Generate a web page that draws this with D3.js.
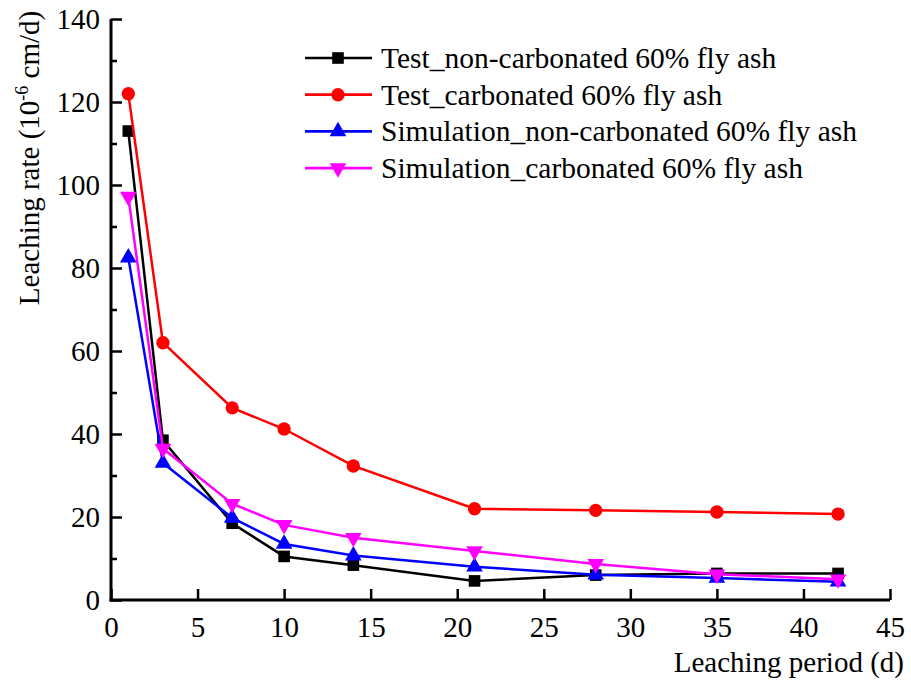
<!DOCTYPE html>
<html>
<head>
<meta charset="utf-8">
<script src="https://cdn.jsdelivr.net/npm/d3@7"></script>
<style>
  body { margin: 0; background: #fff; }
  svg text { font-family: "Liberation Serif", "Times New Roman", serif; fill: #000; }
</style>
</head>
<body>
<div id="chart"></div>
<script>
// leaching period (d)
var days = [1, 3, 7, 10, 14, 21, 28, 35, 42];
// leaching rate (10^-6 cm/d)
var testNonCarb = [113, 38.5, 18.5, 10.5, 8.4, 4.6, 6.0, 6.4, 6.4];
var testCarb = [122, 62, 46.3, 41.2, 32.3, 22.0, 21.6, 21.2, 20.7];
var simNonCarb = [82.5, 33, 19.8, 13.5, 10.7, 8.0, 6.1, 5.3, 4.4];
var simCarb = [97.2, 36.5, 23.2, 18.1, 15.0, 11.8, 8.7, 6.2, 5.0];
var seriesNames = [
  "Test_non-carbonated 60% fly ash",
  "Test_carbonated 60% fly ash",
  "Simulation_non-carbonated 60% fly ash",
  "Simulation_carbonated 60% fly ash"
];
var xTicks = [0, 5, 10, 15, 20, 25, 30, 35, 40, 45];
var yTicks = [0, 20, 40, 60, 80, 100, 120, 140];
var yMinor = [10, 30, 50, 70, 90, 110, 130];

var w = 911, h = 689;
var margin = { left: 111, right: 21, top: 19, bottom: 89 };
var serif = "'Liberation Serif', 'Times New Roman', serif";

var series = [
  { name: seriesNames[0], values: testNonCarb, color: "#000000", symbol: d3.symbolSquare, size: 135, rot: 0 },
  { name: seriesNames[1], values: testCarb, color: "#ff0000", symbol: d3.symbolCircle, size: 140, rot: 0 },
  { name: seriesNames[2], values: simNonCarb, color: "#0000ff", symbol: d3.symbolTriangle, size: 120, rot: 0 },
  { name: seriesNames[3], values: simCarb, color: "#ff00ff", symbol: d3.symbolTriangle, size: 120, rot: 180 }
];

var svg = d3.select("#chart").append("svg")
  .attr("width", w)
  .attr("height", h);

var x = d3.scaleLinear().domain([0, 45]).range([margin.left, w - margin.right]);
var y = d3.scaleLinear().domain([0, 140]).range([h - margin.bottom, margin.top]);

// lines and markers
var line = d3.line()
  .x(function(d) { return x(d[0]); })
  .y(function(d) { return y(d[1]); });

series.forEach(function(s) {
  var pts = days.map(function(d, i) { return [d, s.values[i]]; });
  var g = svg.append("g");
  g.append("path")
    .datum(pts)
    .attr("fill", "none")
    .attr("stroke", s.color)
    .attr("stroke-width", 2.5)
    .attr("d", line);
  g.selectAll("path.mk")
    .data(pts)
    .enter()
    .append("path")
    .attr("class", "mk")
    .attr("fill", s.color)
    .attr("d", d3.symbol().type(s.symbol).size(s.size))
    .attr("transform", function(d) {
      return "translate(" + x(d[0]) + "," + y(d[1]) + ") rotate(" + s.rot + ")";
    });
});

// axes
var xAxis = svg.append("g")
  .attr("transform", "translate(0," + (h - margin.bottom) + ")")
  .call(d3.axisBottom(x).tickValues(xTicks).tickSize(-11).tickPadding(16));
var yAxis = svg.append("g")
  .attr("transform", "translate(" + margin.left + ",0)")
  .call(d3.axisLeft(y).tickValues(yTicks).tickSize(-11).tickPadding(11));
// minor y ticks
svg.append("g")
  .attr("transform", "translate(" + margin.left + ",0)")
  .call(d3.axisLeft(y).tickValues(yMinor).tickSize(-6).tickFormat(""))
  .select(".domain").remove();

[xAxis, yAxis].forEach(function(a) {
  a.attr("font-family", serif).attr("font-size", 29);
  a.select(".domain").attr("stroke-width", 3);
});
svg.selectAll(".tick line").attr("stroke-width", 2.5);
xAxis.select(".domain").attr("d", "M" + (x(0) - 1.5) + ",0H" + x(45));
yAxis.select(".domain").attr("d", "M0," + (y(0) + 1.5) + "V" + y(140));

// axis titles
svg.append("text")
  .attr("x", w - 7)
  .attr("y", 672)
  .attr("text-anchor", "end")
  .attr("font-size", 29)
  .text("Leaching period (d)");

var yt = svg.append("text")
  .attr("transform", "translate(39,158) rotate(-90)")
  .attr("text-anchor", "middle")
  .attr("font-size", 29);
yt.append("tspan").text("Leaching rate (10");
yt.append("tspan").attr("dy", -11).attr("font-size", 18).text("-6");
yt.append("tspan").attr("dy", 11).text(" cm/d)");

// legend
var legend = svg.append("g").attr("transform", "translate(305,58)");
series.forEach(function(s, i) {
  var row = legend.append("g").attr("transform", "translate(0," + (i * 36.7) + ")");
  row.append("line")
    .attr("x1", 0).attr("x2", 67)
    .attr("stroke", s.color)
    .attr("stroke-width", 2.7);
  row.append("path")
    .attr("fill", s.color)
    .attr("d", d3.symbol().type(s.symbol).size(s.size))
    .attr("transform", "translate(33,0) rotate(" + s.rot + ")");
  row.append("text")
    .attr("x", 76)
    .attr("y", 10)
    .attr("font-size", 29.5)
    .text(s.name);
});
</script>
</body>
</html>
